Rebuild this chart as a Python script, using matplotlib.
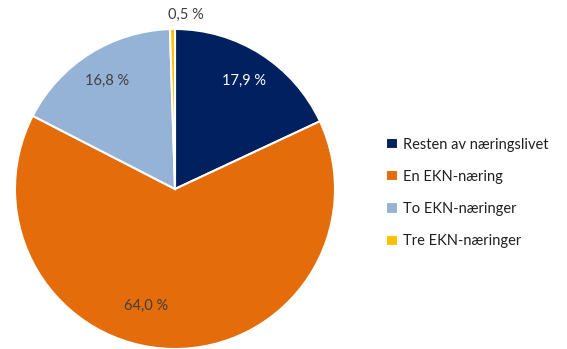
import matplotlib
matplotlib.use("Agg")
import matplotlib.pyplot as plt

labels = ["Resten av næringslivet", "En EKN-næring", "To EKN-næringer", "Tre EKN-næringer"]
shares = [17.9, 64.0, 16.8, 0.5]
colors = ["#002060", "#E46C0A", "#95B3D7", "#FFC000"]
label_colors = ["white", "#404040", "#404040", "#404040"]

plt.rcParams["font.family"] = ["Lato", "DejaVu Sans"]

W, H = 567, 349
fig = plt.figure(figsize=(W / 100, H / 100), dpi=100)
cx, cy, r = 175, 189, 160
ax = fig.add_axes([(cx - r) / W, (H - cy - r) / H, 2 * r / W, 2 * r / H])

wedges, texts, autotexts = ax.pie(
    shares, colors=colors, startangle=90, counterclock=False,
    autopct=lambda p: "", pctdistance=0.8,
    wedgeprops=dict(edgecolor="white", linewidth=1.5),
)
ax.set_xlim(-1, 1)
ax.set_ylim(-1, 1)

for t, val, col in zip(autotexts, shares, label_colors):
    t.set_text(f"{val:.1f} %".replace(".", ","))
    t.set_color(col)
    t.set_fontsize(10.5)

# nudge the big label and pull the tiny slice's label outside
autotexts[1].set_position((-0.18, -0.73))
autotexts[3].set_position((0.07, 1.09))

fig.legend(wedges, labels, loc="center left", bbox_to_anchor=(373 / W, 1 - 193 / H),
           frameon=False, fontsize=10.5, handlelength=0.8, handleheight=0.8,
           handletextpad=0.35, labelspacing=1.25, labelcolor="#202020")

fig.savefig("out.png", dpi=100)
